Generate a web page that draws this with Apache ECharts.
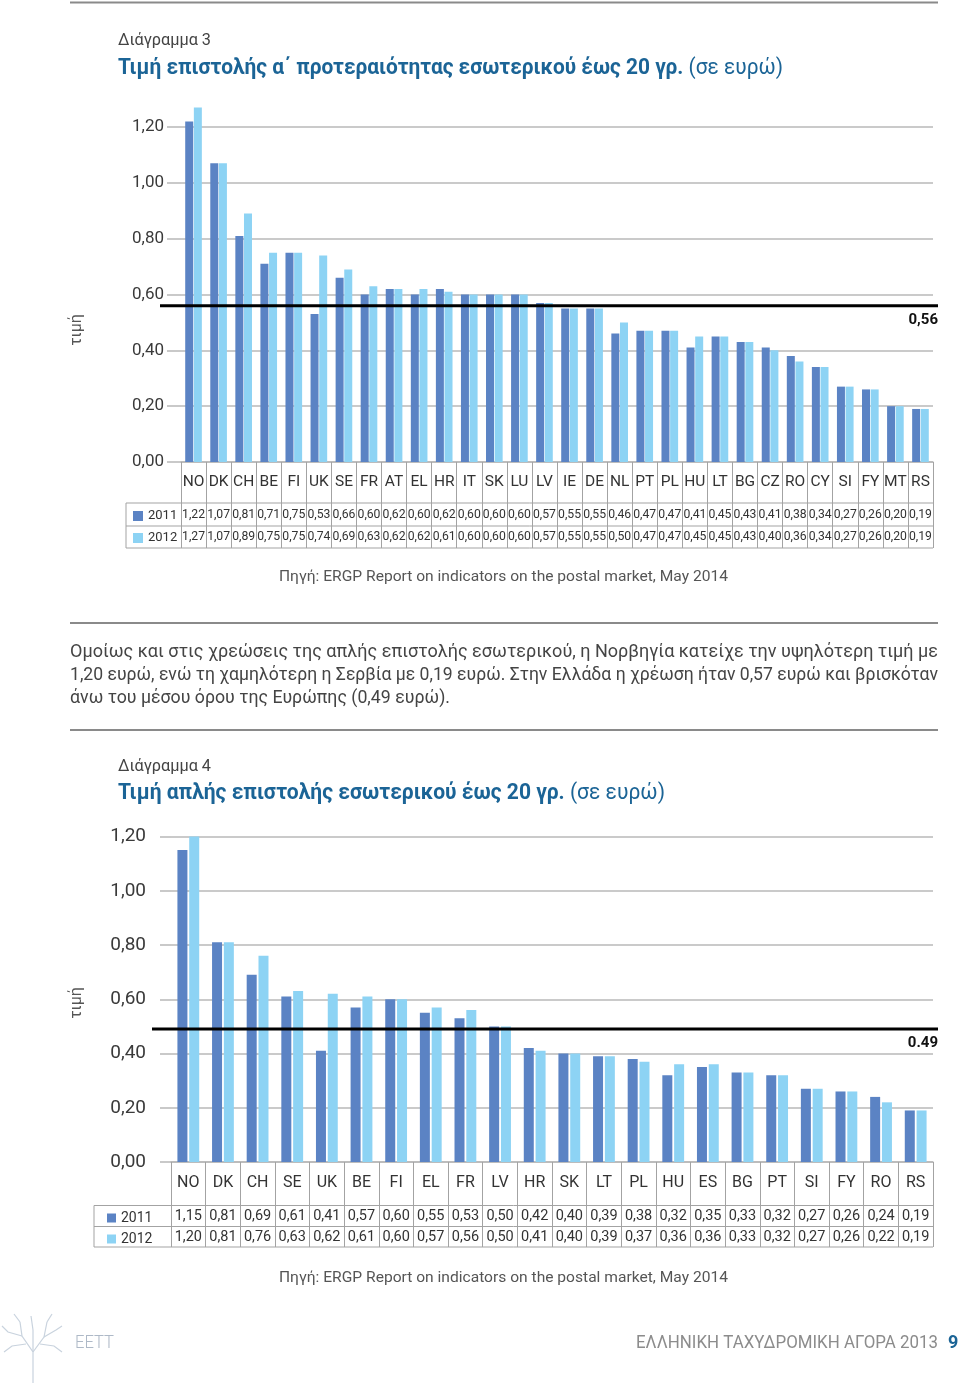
<!DOCTYPE html>
<html><head><meta charset="utf-8">
<script src="https://cdn.jsdelivr.net/npm/echarts@6/dist/echarts.min.js"></script>
<style>
html,body{margin:0;padding:0;background:#fff;}
#c{position:absolute;left:0;top:0;width:960px;height:1383px;}
#p{position:absolute;left:70px;top:639px;width:868px;font-family:Roboto,"Noto Sans",sans-serif;font-size:18px;line-height:23px;color:#444;}
#p div{white-space:nowrap;transform-origin:0 50%;width:max-content;}
</style>
</head><body>
<div id="c"></div>
<div id="p">
<div data-w="868">Ομοίως και στις χρεώσεις της απλής επιστολής εσωτερικού, η Νορβηγία κατείχε την υψηλότερη τιμή με</div>
<div data-w="868">1,20 ευρώ, ενώ τη χαμηλότερη η Σερβία με 0,19 ευρώ. Στην Ελλάδα η χρέωση ήταν 0,57 ευρώ και βρισκόταν</div>
<div data-w="380">άνω του μέσου όρου της Ευρώπης (0,49 ευρώ).</div>
</div>
<script>
// ---------- DATA ----------
const cats1 = ['NO','DK','CH','BE','FI','UK','SE','FR','AT','EL','HR','IT','SK','LU','LV','IE','DE','NL','PT','PL','HU','LT','BG','CZ','RO','CY','SI','FY','MT','RS'];
const chart1_2011 = [1.22,1.07,0.81,0.71,0.75,0.53,0.66,0.60,0.62,0.60,0.62,0.60,0.60,0.60,0.57,0.55,0.55,0.46,0.47,0.47,0.41,0.45,0.43,0.41,0.38,0.34,0.27,0.26,0.20,0.19];
const chart1_2012 = [1.27,1.07,0.89,0.75,0.75,0.74,0.69,0.63,0.62,0.62,0.61,0.60,0.60,0.60,0.57,0.55,0.55,0.50,0.47,0.47,0.45,0.45,0.43,0.40,0.36,0.34,0.27,0.26,0.20,0.19];
const chart1_avg = 0.56;
const chart1_avgLabel = '0,56';

const cats2 = ['NO','DK','CH','SE','UK','BE','FI','EL','FR','LV','HR','SK','LT','PL','HU','ES','BG','PT','SI','FY','RO','RS'];
const chart2_2011 = [1.15,0.81,0.69,0.61,0.41,0.57,0.60,0.55,0.53,0.50,0.42,0.40,0.39,0.38,0.32,0.35,0.33,0.32,0.27,0.26,0.24,0.19];
const chart2_2012 = [1.20,0.81,0.76,0.63,0.62,0.61,0.60,0.57,0.56,0.50,0.41,0.40,0.39,0.37,0.36,0.36,0.33,0.32,0.27,0.26,0.22,0.19];
const chart2_avg = 0.49;
const chart2_avgLabel = '0.49';

const yMin = 0, yMax = 1.2, yStep = 0.2;
const seriesNames = ['2011','2012'];

// ---------- STYLE ----------
const C11 = '#5b83c4', C12 = '#8dd3f4';
const BLUE = '#1b6496';
const SANS = 'Roboto,"Noto Sans",sans-serif';
const GRIDC = '#b8b8b8', TABC = '#a3a3a3';
const fmt = v => v.toFixed(2).replace('.', ',');

// paragraph lines fitted to the reference line widths
document.querySelectorAll('#p div').forEach(d => {
  const w = d.getBoundingClientRect().width;
  d.style.transform = 'scaleX(' + (parseFloat(d.dataset.w) / w) + ')';
});

const mctx = document.createElement('canvas').getContext('2d');
function tw(font, s) { mctx.font = font; return mctx.measureText(s).width; }
function fitTxt(id, text, x, y, font, color, targetW, align) {
  const s = targetW / tw(font, text);
  return {id, type: 'text', x, y, scaleX: s, silent: true, z: 5,
    style: {text, font, fill: color, verticalAlign: 'middle', align: align || 'left'}};
}
function fitTitle(id, bold, reg, x, y, targetW) {
  const fb = 'bold 22px ' + SANS, fr = '22px ' + SANS;
  const s = targetW / (tw(fb, bold) + tw(fr, reg));
  return {id, type: 'text', x, y, scaleX: s, silent: true, z: 5,
    style: {text: '{b|' + bold + '}{r|' + reg + '}', verticalAlign: 'middle',
      rich: {b: {font: fb, fill: BLUE}, r: {font: fr, fill: BLUE}}}};
}

const chart = echarts.init(document.getElementById('c'), null, {renderer: 'canvas'});

function xAxes(gi, cats, rows, tickLen, catFont, valFont, margins) {
  const base = {gridIndex: gi, type: 'category', data: cats, position: 'bottom', boundaryGap: true};
  const out = [Object.assign({}, base, {
    axisLine: {show: true, lineStyle: {color: GRIDC, width: 1.5}},
    axisTick: {show: true, interval: 0, length: tickLen, lineStyle: {color: TABC, width: 1}},
    axisLabel: {interval: 0, margin: margins[0], verticalAlign: 'middle', fontFamily: SANS, fontSize: catFont, color: '#333'}
  })];
  rows.forEach((vals, k) => {
    out.push(Object.assign({}, base, {
      axisLine: {show: false}, axisTick: {show: false},
      axisLabel: {interval: 0, margin: margins[k + 1], verticalAlign: 'middle', fontFamily: SANS, fontSize: valFont, color: '#333',
        formatter: (v, i) => fmt(vals[i])}
    }));
  });
  return out;
}

function yAxis(gi, tickLen, margin, font) {
  return {
    gridIndex: gi, type: 'value', min: yMin, max: yMax, interval: yStep,
    axisLine: {show: false},
    axisTick: {show: true, length: tickLen, lineStyle: {color: GRIDC, width: 1.5}},
    splitLine: {show: true, lineStyle: {color: GRIDC, width: 1.5}},
    axisLabel: {margin: margin, fontFamily: SANS, fontSize: font, color: '#3a3a3a', formatter: v => fmt(v)}
  };
}

function bars(xi, yi, d11, d12, w, gap) {
  return [
    {type: 'bar', name: seriesNames[0], xAxisIndex: xi, yAxisIndex: yi, data: d11, barWidth: w, barGap: gap, clip: false,
     itemStyle: {color: C11}, emphasis: {disabled: true}, z: 3},
    {type: 'bar', name: seriesNames[1], xAxisIndex: xi, yAxisIndex: yi, data: d12, barWidth: w, barGap: gap, clip: false,
     itemStyle: {color: C12}, emphasis: {disabled: true}, z: 3}
  ];
}

function hline(id, x1, x2, y, color, w) {
  return {id, type: 'line', shape: {x1, y1: y, x2, y2: y}, style: {stroke: color, lineWidth: w}, silent: true, z: 1};
}
function vline(id, x, y1, y2, color, w) {
  return {id, type: 'line', shape: {x1: x, y1, x2: x, y2}, style: {stroke: color, lineWidth: w}, silent: true, z: 1};
}
function rotTxt(id, text, x, y) {
  return {id, type: 'text', x, y, rotation: Math.PI / 2, silent: true, z: 5,
    style: {text, font: '16px ' + SANS, fill: '#555', align: 'center', verticalAlign: 'middle'}};
}

const x1s = xAxes(0, cats1, [chart1_2011, chart1_2012], 86, 15.5, 12.2, [20, 52.5, 75]);
const x2s = xAxes(1, cats2, [chart2_2011, chart2_2012], 85, 16, 14.5, [21, 54, 75]);

const TREE = '#c9d3de';
function br(pts) { return {type: 'polyline', shape: {points: pts}, style: {stroke: TREE, lineWidth: 1.2, fill: null}}; }

const graphics = [
  hline('r0', 70, 938, 2.5, '#8a8a8a', 2),
  hline('r1', 70, 938, 623, '#8a8a8a', 2),
  hline('r2', 70, 938, 730, '#8a8a8a', 2),
  // chart 1 headings
  fitTxt('d3', 'Διάγραμμα 3', 118, 41, '16px ' + SANS, '#444', 93),
  fitTitle('t3', 'Τιμή επιστολής α΄ προτεραιότητας εσωτερικού έως 20 γρ.', ' (σε ευρώ)', 118, 68, 665),
  rotTxt('n1', 'τιμή', 77, 330),
  // chart 1 table borders
  hline('tb1a', 126, 933, 503, TABC, 1),
  hline('tb1b', 126, 933, 526, TABC, 1),
  hline('tb1c', 126, 933, 548, TABC, 1),
  vline('tb1l', 126, 503, 548, TABC, 1),
  fitTxt('s1', 'Πηγή: ERGP Report on indicators on the postal market, May 2014', 503.5, 577, '15px ' + SANS, '#555', 449, 'center'),
  // chart 2 headings
  fitTxt('d4', 'Διάγραμμα 4', 118, 767, '16px ' + SANS, '#444', 93),
  fitTitle('t4', 'Τιμή απλής επιστολής εσωτερικού έως 20 γρ.', ' (σε ευρώ)', 118, 793, 547),
  rotTxt('n2', 'τιμή', 77, 1003),
  hline('tb2a', 94, 933, 1205.5, TABC, 1),
  hline('tb2b', 94, 933, 1226.5, TABC, 1),
  hline('tb2c', 94, 933, 1247, TABC, 1),
  vline('tb2l', 94, 1205.5, 1247, TABC, 1),
  fitTxt('s2', 'Πηγή: ERGP Report on indicators on the postal market, May 2014', 503.5, 1278, '15px ' + SANS, '#555', 449, 'center'),
  // footer
  fitTxt('f1', 'EETT', 75, 1343, '300 19px ' + SANS, '#aeb9c7', 39),
  fitTxt('f2', 'ΕΛΛΗΝΙΚΗ ΤΑΧΥΔΡΟΜΙΚΗ ΑΓΟΡΑ 2013', 938, 1343, '19px ' + SANS, '#8c8c8c', 302, 'right'),
  {id: 'f3', type: 'text', x: 948, y: 1343, silent: true, z: 5, style: {text: '9', font: 'bold 18px ' + SANS, fill: BLUE, verticalAlign: 'middle'}},
  // tree logo (decorative)
  {id: 'lg', type: 'group', silent: true, children: [
    br([[33,1383],[33,1352],[22,1336],[20,1322]]),
    br([[33,1352],[44,1337],[47,1322]]),
    br([[33,1352],[33,1330],[31,1316]]),
    br([[22,1336],[8,1332],[2,1326]]),
    br([[44,1337],[56,1330],[62,1326]]),
    br([[26,1344],[12,1346],[4,1352]]),
    br([[40,1344],[54,1346],[62,1352]]),
    br([[20,1322],[14,1314]]),
    br([[47,1322],[52,1314]])
  ]}
];

const option = {
  animation: false,
  backgroundColor: '#fff',
  textStyle: {fontFamily: SANS},
  grid: [
    {left: 181, right: 27, top: 127, height: 335, containLabel: false},
    {left: 171, right: 27, top: 836.5, height: 325.5, containLabel: false}
  ],
  xAxis: x1s.concat(x2s),
  yAxis: [yAxis(0, 14, 17, 17), yAxis(1, 11, 25, 19)],
  legend: [
    {orient: 'vertical', left: 128, top: 504, itemWidth: 10, itemHeight: 10, itemGap: 8, icon: 'rect', selectedMode: false,
     data: seriesNames, textStyle: {fontFamily: SANS, fontSize: 13, lineHeight: 14, color: '#333'}},
    {orient: 'vertical', left: 102, top: 1205, itemWidth: 9, itemHeight: 9, itemGap: 5, icon: 'rect', selectedMode: false,
     data: seriesNames, textStyle: {fontFamily: SANS, fontSize: 14, lineHeight: 16, color: '#333'}}
  ],
  series: bars(0, 0, chart1_2011, chart1_2012, 8, '8%').concat(bars(3, 1, chart2_2011, chart2_2012, 10, '18%')),
  graphic: graphics
};
chart.setOption(option);

// average lines placed through the value axes' scales
const ya1 = chart.convertToPixel({yAxisIndex: 0}, chart1_avg);
const ya2 = chart.convertToPixel({yAxisIndex: 1}, chart2_avg);
chart.setOption({graphic: [
  {id: 'av1', type: 'line', shape: {x1: 160, y1: ya1, x2: 938, y2: ya1}, style: {stroke: '#000', lineWidth: 3}, silent: true, z: 10},
  {id: 'av1t', type: 'text', x: 938, y: ya1 + 7, silent: true, z: 10, style: {text: chart1_avgLabel, font: 'bold 15px ' + SANS, fill: '#111', align: 'right', verticalAlign: 'top'}},
  {id: 'av2', type: 'line', shape: {x1: 152, y1: ya2, x2: 938, y2: ya2}, style: {stroke: '#000', lineWidth: 3}, silent: true, z: 10},
  {id: 'av2t', type: 'text', x: 938, y: ya2 + 7, silent: true, z: 10, style: {text: chart2_avgLabel, font: 'bold 15px ' + SANS, fill: '#111', align: 'right', verticalAlign: 'top'}}
]});
</script>
</body></html>
